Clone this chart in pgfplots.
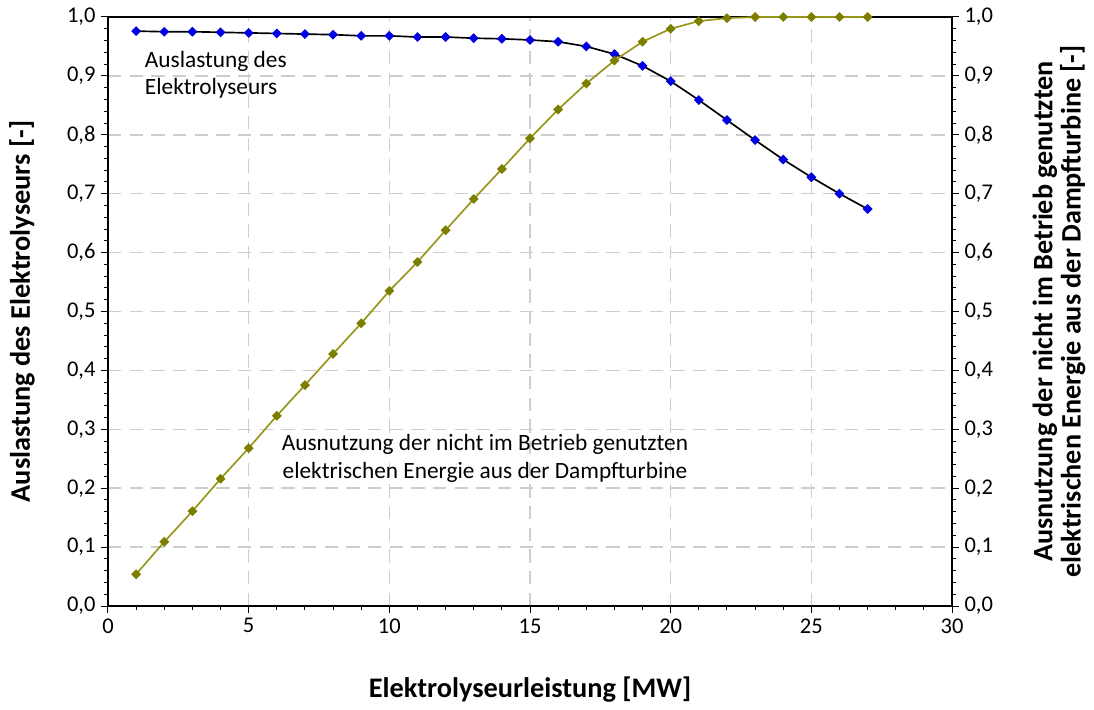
\documentclass[border=0pt]{standalone}
\usepackage{pgfplots}
\pgfplotsset{compat=1.18}
\usepackage{fontspec}
\setmainfont{Carlito}
\definecolor{olivel}{RGB}{150,150,25}
\definecolor{olivem}{RGB}{125,125,0}
\definecolor{bluem}{RGB}{0,0,225}
\definecolor{gridc}{RGB}{205,205,205}
\begin{document}
\begin{tikzpicture}
\pgfplotsset{
  common/.style={
    scale only axis, width=506.4pt, height=353.4pt,
    xmin=0, xmax=30, ymin=0, ymax=1,
    tick label style={font=\fontsize{13.5}{15}\selectfont},
    /pgf/number format/assume math mode=true,
    tick align=outside, major tick length=4pt, minor tick length=2.5pt,
    every tick/.style={black, line width=0.6pt},
    label style={font=\fontsize{17}{19}\selectfont\bfseries},
    yticklabel style={/pgf/number format/.cd, use comma, fixed, fixed zerofill, precision=1},
    ytick={0,0.1,...,1.0},
    minor y tick num=4,
  }
}
\begin{axis}[common, name=ax,
  axis line style={black, line width=0.8pt},
  xtick={0,5,...,30}, minor x tick num=4,
  grid=major,
  major grid style={gridc, line width=0.9pt, dash pattern=on 8pt off 5pt},
  ytick pos=left, xtick pos=bottom,
  xlabel={Elektrolyseurleistung [MW]},
  ylabel={Auslastung des Elektrolyseurs [-]},
  xlabel style={at={(axis description cs:0.5,-0.1426)}, anchor=center},
  ylabel style={at={(axis description cs:-0.1019,0.5)}, anchor=center},
  clip=false,
]
\addplot[black, line width=1pt, mark=square*, mark size=1.6pt, mark options={fill=bluem, draw=bluem, rotate=45}] coordinates {
(1,0.976)(2,0.975)(3,0.975)(4,0.974)(5,0.973)(6,0.972)(7,0.971)(8,0.970)(9,0.968)(10,0.968)
(11,0.966)(12,0.966)(13,0.964)(14,0.963)(15,0.961)(16,0.958)(17,0.950)(18,0.937)(19,0.917)(20,0.891)
(21,0.859)(22,0.825)(23,0.791)(24,0.758)(25,0.728)(26,0.700)(27,0.674)};
\addplot[olivel, line width=1pt, mark=square*, mark size=1.6pt, mark options={fill=olivem, draw=olivem, rotate=45}] coordinates {
(1,0.054)(2,0.109)(3,0.161)(4,0.216)(5,0.268)(6,0.323)(7,0.375)(8,0.428)(9,0.480)(10,0.535)
(11,0.584)(12,0.638)(13,0.691)(14,0.742)(15,0.794)(16,0.843)(17,0.887)(18,0.926)(19,0.958)(20,0.980)
(21,0.993)(22,0.998)(23,1.0)(24,1.0)(25,1.0)(26,1.0)(27,1.0)};
\node[anchor=west, align=left, font=\fontsize{14}{16.5}\selectfont, inner sep=0pt] at (axis cs:1.3,0.902) {Auslastung des\\Elektrolyseurs};
\node[anchor=center, align=center, font=\fontsize{14}{16.5}\selectfont, inner sep=0pt] at (axis cs:13.4,0.251) {Ausnutzung der nicht im Betrieb genutzten\\ elektrischen Energie aus der Dampfturbine};
\end{axis}
\begin{axis}[common,
  axis x line=none, axis y line*=right,
  axis line style={black, line width=0.8pt},
  ylabel={Ausnutzung der nicht im Betrieb genutzten\\elektrischen Energie aus der Dampfturbine [-]},
  ylabel style={align=center, at={(axis description cs:1.1268,0.5)}, anchor=center, font=\fontsize{16.9}{17}\selectfont\bfseries},
]
\end{axis}
\path ([xshift=-64.8pt,yshift=-61.8pt]ax.south west) rectangle ([xshift=85.2pt,yshift=10.2pt]ax.north east);
\end{tikzpicture}
\end{document}
